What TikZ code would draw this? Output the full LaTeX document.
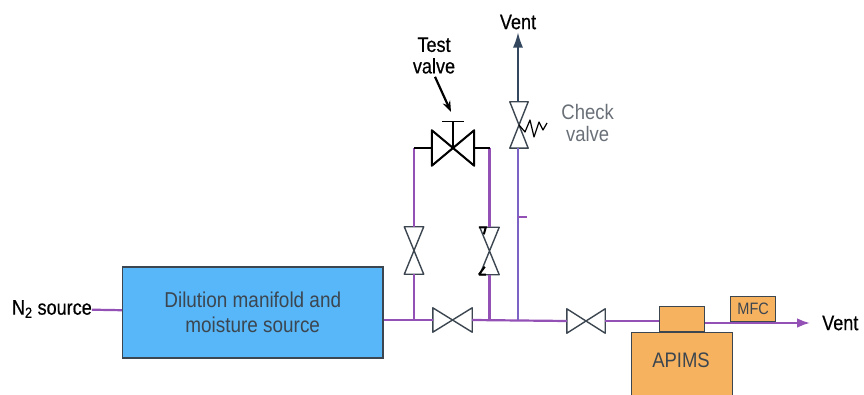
\documentclass[tikz,border=0pt]{standalone}
\usepackage{fontspec}
\setmainfont[FakeStretch=0.88]{Liberation Sans}
\newfontfamily\labelfont[FakeStretch=0.86,FakeBold=0.5]{Liberation Sans}
\usetikzlibrary{positioning,arrows.meta}
\definecolor{pipepurple}{HTML}{9350B5}
\definecolor{riserblue}{HTML}{7C62C4}
\definecolor{boxblue}{HTML}{58B7F8}
\definecolor{boxorange}{HTML}{F6B25F}
\definecolor{edgegray}{HTML}{3C4650}
\definecolor{ventnavy}{HTML}{33475E}
\definecolor{checkgray}{HTML}{6A7078}
\tikzset{
    x=1pt, y=-1pt,
    module/.style={%
        draw=edgegray, line width=1.3pt,
        inner sep=0pt,
        text=edgegray
        },
    hvalve/.style={%
        inner sep=0pt, minimum width=#1, minimum height=24pt,
        append after command={\pgfextra{\draw[edgegray, line width=1.4pt, line join=round]
            (\tikzlastnode.south west) -- (\tikzlastnode.north east) -- (\tikzlastnode.south east)
            -- (\tikzlastnode.north west) -- cycle;}}
        },
    hvalve/.default=39pt,
    vvalve/.style={%
        inner sep=0pt, minimum width=19pt, minimum height=47pt,
        append after command={\pgfextra{\draw[edgegray, line width=1.4pt, line join=round]
            (\tikzlastnode.south west) -- (\tikzlastnode.north east) -- (\tikzlastnode.north west)
            -- (\tikzlastnode.south east) -- cycle;}}
        },
    label/.style={inner sep=0pt, align=center, font=\labelfont\fontsize{21}{21.5}\selectfont},
    checktext/.style={inner sep=0pt, align=center, text=checkgray, font=\fontsize{21}{21.5}\selectfont},
    boxtext/.style={align=center, font=\fontsize{21.5}{25}\selectfont},
    pipe/.style={pipepurple, line width=2.2pt},
    stub/.style={black, line width=2.4pt},
    >=Latex
}

\begin{document}
\begin{tikzpicture}

\useasboundingbox (0,0) rectangle (864,395);

\node[label, anchor=east] (Source) at (92,309) {N\textsubscript{2} source};

\node[module, fill=boxblue, minimum width=260.5pt, minimum height=91pt, boxtext] (Dilution) at (252.75,312.5) {Dilution manifold and\\moisture source};

\node[hvalve] (InletValve) at (452.5,320) {};

\node[hvalve, minimum width=38pt] (OutletValve) at (586,321) {};

\node[vvalve] (BypassLeft) at (414,250.5) {};

\node[vvalve] (BypassRight) at (489.5,251) {};

\node[hvalve=42pt, minimum height=35pt] (TestValve) at (453,148) {};

\node[vvalve, minimum width=18pt, minimum height=46pt] (CheckValve) at (519,125) {};

\node[module, fill=boxorange, minimum width=101pt, minimum height=66pt, anchor=north west] (Apims) at (631,332) {};

\node[boxtext, text=edgegray, font=\fontsize{21}{22}\selectfont] (ApimsText) at (681,360) {APIMS};

\node[module, fill=boxorange, minimum width=45pt, minimum height=25pt, anchor=south west] (Inlet) at (659,332) {};

\node[module, fill=boxorange, minimum width=45pt, minimum height=25pt, font=\fontsize{16.5}{18}\selectfont, anchor=south west] (Mfc) at (730,322) {MFC};

\node[label, anchor=west] (VentOut) at (822,323) {Vent};

\node[label] (VentUp) at (518,22) {Vent};

\node[label] (TestLabel) at (434,55.5) {Test\\valve};

\node[checktext, right=33pt of CheckValve.east, yshift=2pt] (CheckLabel) {Check\\valve};

\coordinate (Tap) at (518,217);

\coordinate (TBar) at (453,122);

\draw[pipe] (Source) -- (Dilution);

\draw[pipe] (InletValve.west -| Dilution.east) -- (InletValve.west);

\draw[pipe] (InletValve.east) -- (OutletValve.west);

\draw[pipe] (OutletValve.east) -- (OutletValve.east -| Inlet.west);

\draw[pipe, ->, shorten >=12pt] (Inlet.east |- VentOut.west) -- (VentOut.west);

\draw[pipe] (BypassLeft.south) -- (BypassLeft.south |- InletValve.west);

\draw[pipe] (BypassRight.south) -- (BypassRight.south |- InletValve.east);

\draw[pipe] (BypassLeft.north) -- (BypassLeft.north |- TestValve.west);

\draw[pipe] (BypassRight.north) -- (BypassRight.north |- TestValve.east);

\draw[stub] (BypassLeft.north |- TestValve.west) -- (TestValve.west);

\draw[stub] (TestValve.east) -- (BypassRight.north |- TestValve.east);

\draw[riserblue, line width=2.2pt] (Tap |- InletValve.east) -- (Tap |- CheckValve.south);

\draw[pipe] (Tap) -- ++(9,0);

\draw[ventnavy, line width=1.3pt, -{Latex[length=15pt,width=10pt]}, shorten >=3pt] (Tap |- CheckValve.north) -- (VentUp.south);

\draw[black, line width=2pt, line join=round] (TestValve.south west) -- (TestValve.north east) -- (TestValve.south east) -- (TestValve.north west) -- cycle;

\draw[black, line width=1.3pt] (TestValve.center) -- (TBar);

\draw[black, line width=1pt] ([xshift=-11pt]TBar) -- ([xshift=11pt]TBar);

\draw[black, line width=2.2pt, -{Stealth[length=11pt,width=8pt]}] (TestLabel.south) ++(1,3) -- (451,112);

\draw[black, line width=1.2pt, line join=round] (CheckValve.center) -- ++(6,7) -- ++(5,-12) -- ++(4,17) -- ++(5,-15) -- ++(4,8) -- ++(4,-7);

\draw[black, line width=2pt] ([xshift=-1pt]BypassRight.north west) -- ++(7,0) -- ++(-2,7);

\draw[black, line width=2pt] ([xshift=-1pt]BypassRight.south west) -- ++(7,0) ++(-7,0) -- ++(6,-8);

\end{tikzpicture}
\end{document}
